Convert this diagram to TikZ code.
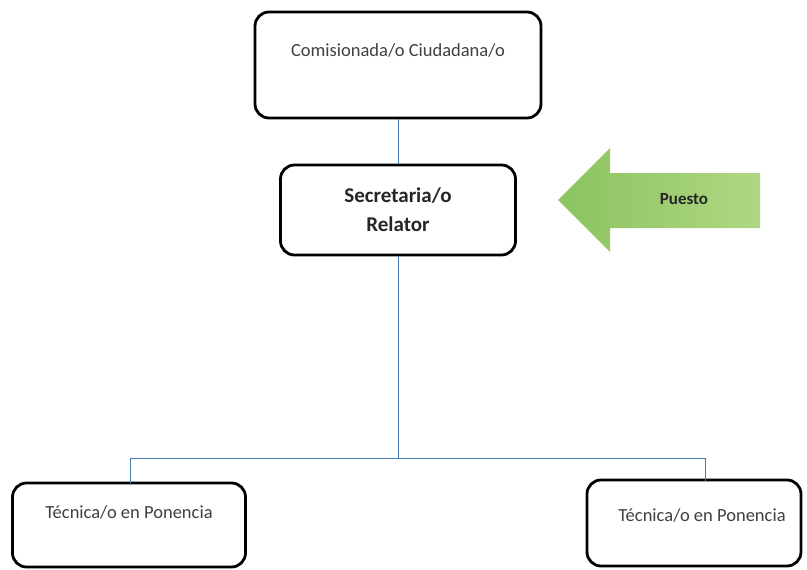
\documentclass[tikz,border=0pt]{standalone}
\usepackage{fontspec}
\setmainfont{Carlito}
\begin{document}
\begin{tikzpicture}[x=1pt,y=-1pt,
  box/.style={draw=black,line width=2.8pt,rounded corners=14pt,fill=white},
  link/.style={draw={rgb,255:red,70;green,120;blue,180},line width=0.9pt},
  lbl/.style={font=\fontsize{18.5}{22}\selectfont,text=black!75}]
\useasboundingbox (0,0) rectangle (807,570);
% boxes
\node[box,minimum width=286pt,minimum height=106pt] (top) at (398,65) {};
\node[lbl] at (398,50) {Comisionada/o Ciudadana/o};
\node[box,minimum width=235pt,minimum height=90pt,align=center,
  font=\bfseries\fontsize{21}{29}\selectfont,text=black!85] (sec) at (398,210) {Secretaria/o\\Relator};
\node[box,minimum width=233pt,minimum height=84pt] (t1) at (129,525) {};
\node[lbl] at (129,512) {Técnica/o en Ponencia};
\node[box,minimum width=214pt,minimum height=86pt] (t2) at (694,523) {};
\node[lbl] at (702,515) {Técnica/o en Ponencia};
% connectors
\coordinate (j) at (398,458);
\draw[link] (top.south) -- (sec.north);
\draw[link] (sec.south) -- (j);
\draw[link] (j) -- (130,458) -- (130,483);
\draw[link] (j) -- (705,458) -- (705,481);
% arrow
\shade[left color={rgb,255:red,140;green,195;blue,95},right color={rgb,255:red,175;green,215;blue,130}]
  (558,200) -- (610,148) -- (610,173) -- (760,173) -- (760,228) -- (610,228) -- (610,252) -- cycle;
\node[font=\bfseries\fontsize{17}{20}\selectfont,text=black!85] (p) at (684,199) {Puesto};
\end{tikzpicture}
\end{document}
